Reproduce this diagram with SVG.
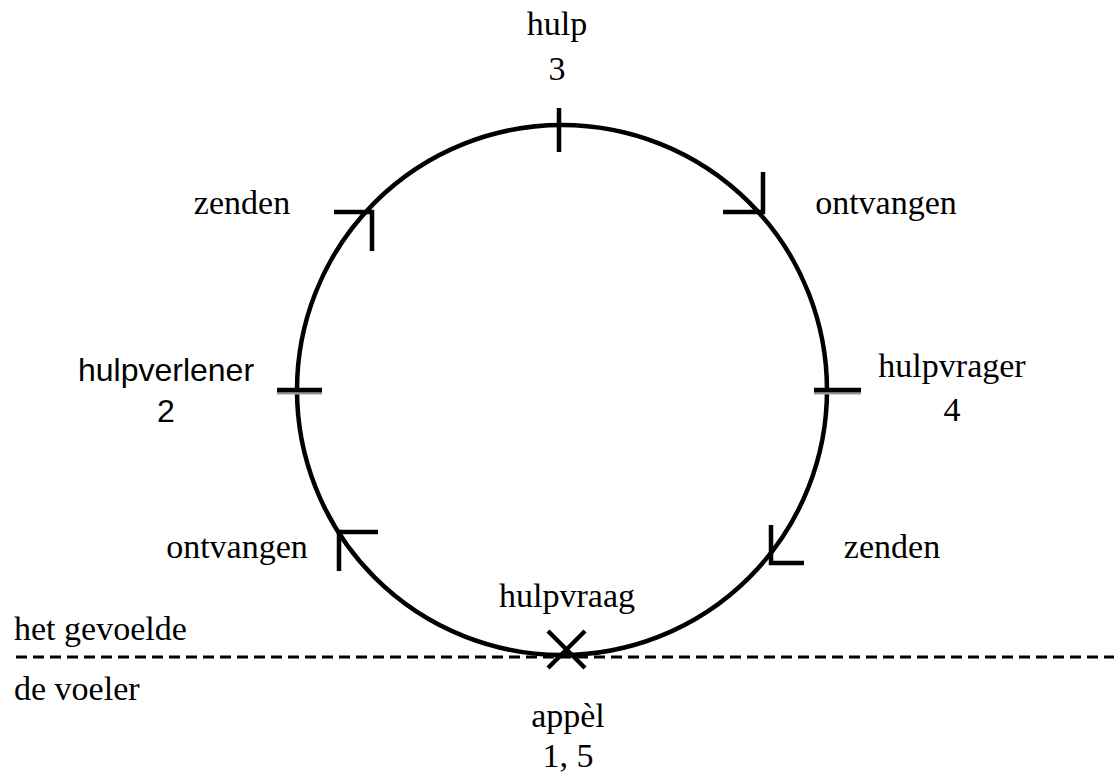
<svg xmlns="http://www.w3.org/2000/svg" width="1114" height="773" viewBox="0 0 1114 773">
<style>
.t{font-family:"Liberation Serif","Times New Roman",serif;font-size:34px;fill:#000}
.s{font-family:"Liberation Sans",Arial,sans-serif;font-size:32px;fill:#000}
.ln{stroke:#000;stroke-width:4.5;fill:none}
.sh{stroke:#999;stroke-width:3;fill:none}
</style>
<rect width="1114" height="773" fill="#fff"/>
<g id="connectors">
<line x1="16" y1="657" x2="1114" y2="657" stroke="#000" stroke-width="3" stroke-dasharray="11,6"/>
<circle cx="562" cy="390" r="265" class="ln"/>
</g>
<g id="arrow-zenden-left"><polyline class="ln" points="334,212 372,212 372,251"/></g>
<g id="arrow-ontvangen-right"><polyline class="ln" points="723,212 763,212 763,172"/></g>
<g id="arrow-ontvangen-left"><polyline class="ln" points="378,532 339,532 339,571"/></g>
<g id="arrow-zenden-right"><polyline class="ln" points="771,525 771,563 804,563"/></g>
<g id="tick-top"><line class="ln" x1="559" y1="108" x2="559" y2="152"/></g>
<g id="tick-left"><line class="sh" x1="277" y1="393" x2="322" y2="393"/><line class="ln" x1="277" y1="390" x2="322" y2="390"/></g>
<g id="tick-right"><line class="sh" x1="814" y1="393" x2="861" y2="393"/><line class="ln" x1="814" y1="390" x2="861" y2="390"/></g>
<g id="cross"><line class="ln" x1="548" y1="631" x2="585" y2="668" stroke-width="5"/><line class="ln" x1="585" y1="631" x2="548" y2="668" stroke-width="5"/></g>
<g id="label-hulp"><text class="t" x="557" y="35" text-anchor="middle">hulp</text><text class="t" x="557" y="80" text-anchor="middle">3</text></g>
<g id="label-zenden-l"><text class="t" x="242" y="214" text-anchor="middle">zenden</text></g>
<g id="label-ontvangen-r"><text class="t" x="886" y="214" text-anchor="middle">ontvangen</text></g>
<g id="label-hulpverlener"><text class="s" x="166" y="381" text-anchor="middle">hulpverlener</text><text class="s" x="166" y="422" text-anchor="middle">2</text></g>
<g id="label-hulpvrager"><text class="t" x="952" y="377" text-anchor="middle">hulpvrager</text><text class="t" x="952" y="421" text-anchor="middle">4</text></g>
<g id="label-ontvangen-l"><text class="t" x="237" y="558" text-anchor="middle">ontvangen</text></g>
<g id="label-zenden-r"><text class="t" x="892" y="558" text-anchor="middle">zenden</text></g>
<g id="label-hulpvraag"><text class="t" x="567" y="607" text-anchor="middle">hulpvraag</text></g>
<g id="label-gevoelde"><text class="t" x="14" y="640">het gevoelde</text></g>
<g id="label-voeler"><text class="t" x="14" y="700">de voeler</text></g>
<g id="label-appel"><text class="t" x="568" y="727" text-anchor="middle">appèl</text><text class="t" x="568" y="767" text-anchor="middle">1, 5</text></g>
</svg>
